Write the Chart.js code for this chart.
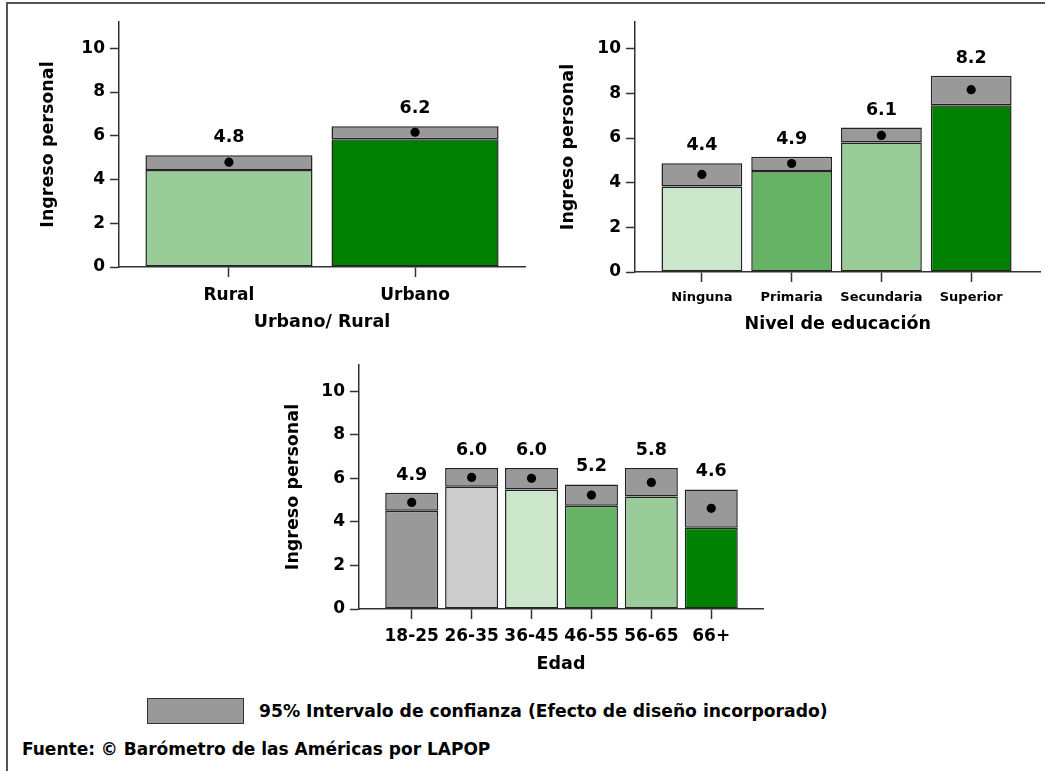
<!DOCTYPE html>
<html><head><meta charset="utf-8">
<script src="https://cdn.jsdelivr.net/npm/chart.js@4.4.0/dist/chart.umd.min.js"></script>
<style>
html,body{margin:0;padding:0;background:#fff;width:1045px;height:771px;overflow:hidden;position:relative;font-family:'DejaVu Sans',sans-serif;}
canvas{position:absolute;}
#frame{position:absolute;left:6px;top:2px;width:1037px;height:780px;border-top:2px solid #555;border-left:2px solid #555;}
#legbox{position:absolute;left:147px;top:698px;width:95px;height:24px;background:#999999;border:1px solid #333;}
.txt{position:absolute;transform:translateY(-50%);font-weight:bold;white-space:nowrap;color:#000;line-height:1;}
</style>
</head><body>
<div id="frame"></div>
<canvas id="c1" width="530" height="333" style="left:0px;top:0px"></canvas>
<canvas id="c2" width="529" height="335" style="left:516px;top:0px"></canvas>
<canvas id="c3" width="530" height="332" style="left:240px;top:343px"></canvas>
<div id="legbox"></div>
<div class="txt" style="left:259px;top:712px;font-size:17.2px">95% Intervalo de confianza (Efecto de diseño incorporado)</div>
<div class="txt" style="left:22px;top:749px;font-size:17px">Fuente: © Barómetro de las Américas por LAPOP</div>
<script>
// ---- data ----
const urbanCategories = ['Rural', 'Urbano'];
const urbanMeans = [4.79, 6.16];
const urbanLower = [4.43, 5.84];
const urbanUpper = [5.11, 6.44];
const urbanColors = ['#99CC99', '#008000'];

const eduCategories = ['Ninguna', 'Primaria', 'Secundaria', 'Superior'];
const eduMeans = [4.37, 4.86, 6.12, 8.17];
const eduLower = [3.83, 4.53, 5.80, 7.47];
const eduUpper = [4.87, 5.16, 6.47, 8.79];
const eduColors = ['#CCE6CC', '#66B366', '#99CC99', '#008000'];

const ageCategories = ['18-25', '26-35', '36-45', '46-55', '56-65', '66+'];
const ageMeans = [4.89, 6.04, 6.00, 5.23, 5.81, 4.62];
const ageLower = [4.51, 5.61, 5.48, 4.74, 5.16, 3.73];
const ageUpper = [5.34, 6.47, 6.47, 5.72, 6.47, 5.49];
const ageColors = ['#999999', '#CCCCCC', '#CCE6CC', '#66B366', '#99CC99', '#008000'];

const yTicks = [0, 2, 4, 6, 8, 10];
const yMax = 11.2;
const ciColor = '#999999';
const yTitle = 'Ingreso personal';

Chart.defaults.font.family = "'DejaVu Sans', sans-serif";
Chart.defaults.font.weight = 'bold';
Chart.defaults.color = '#000';

function makeChart(id, p) {
  const idx = p.categories.map((c, i) => i);
  const labelPlugin = {
    id: 'valueLabels' + id,
    afterDatasetsDraw(chart) {
      const ctx = chart.ctx, x = chart.scales.x, y = chart.scales.y;
      ctx.save();
      ctx.font = "bold 17.5px 'DejaVu Sans'";
      ctx.fillStyle = '#000';
      ctx.textAlign = 'center';
      ctx.textBaseline = 'middle';
      p.means.forEach((m, i) => {
        ctx.fillText(m.toFixed(1), x.getPixelForValue(i), y.getPixelForValue(p.upper[i]) - 17.5);
      });
      ctx.restore();
    }
  };
  new Chart(document.getElementById(id), {
    type: 'bar',
    data: {
      datasets: [
        { type: 'line', data: idx.map(i => ({x: i, y: p.means[i]})), showLine: false,
          pointRadius: 4.6, pointBackgroundColor: '#000', pointBorderWidth: 0, order: 0 },
        { data: idx.map(i => ({x: i, y: [0, p.lower[i]]})), backgroundColor: p.colors,
          borderColor: '#222', borderWidth: 1.5, borderSkipped: false, grouped: false,
          barPercentage: p.barPct, categoryPercentage: 1, order: 2 },
        { data: idx.map(i => ({x: i, y: [p.lower[i], p.upper[i]]})), backgroundColor: ciColor,
          borderColor: '#222', borderWidth: 1.5, borderSkipped: false, grouped: false,
          barPercentage: p.barPct, categoryPercentage: 1, order: 1 }
      ]
    },
    options: {
      responsive: false, animation: false, devicePixelRatio: 1, events: [],
      layout: { padding: { top: 22, right: p.padRight, left: 0, bottom: 0 } },
      plugins: { legend: { display: false }, tooltip: { enabled: false } },
      scales: {
        x: {
          type: 'linear', min: p.xMin, max: p.xMax, offset: false,
          afterBuildTicks: s => { s.ticks = idx.map(i => ({value: i})); },
          afterFit: s => { s.height = p.xHeight; },
          ticks: { callback: v => p.categories[Math.round(v)], font: { size: p.xFont, weight: 'bold' },
                   color: '#000', padding: p.xPad, maxRotation: 0, autoSkip: false, includeBounds: false },
          grid: { offset: false, drawOnChartArea: false, drawTicks: true, tickLength: 10, tickColor: '#333', tickWidth: 1.5 },
          border: { display: true, color: '#333', width: 1.5 },
          title: { display: true, text: p.xTitle, font: { size: 17.5, weight: 'bold' }, color: '#000',
                   padding: { top: 0, bottom: 0 } }
        },
        y: {
          min: 0, max: yMax,
          afterBuildTicks: s => { s.ticks = yTicks.map(v => ({value: v})); },
          afterFit: s => { s.width = 119; },
          ticks: { font: { size: 17, weight: 'bold' }, color: '#000', padding: 5 },
          grid: { drawOnChartArea: false, drawTicks: true, tickLength: 9, tickColor: '#333', tickWidth: 1.5 },
          border: { display: true, color: '#333', width: 1.5 },
          title: { display: true, text: yTitle, font: { size: 17.5, weight: 'bold' }, color: '#000',
                   padding: { top: p.yTitlePad, bottom: 0 } }
        }
      }
    },
    plugins: [labelPlugin]
  });
}

makeChart('c1', { categories: urbanCategories, means: urbanMeans, lower: urbanLower, upper: urbanUpper,
  colors: urbanColors, xMin: -0.591, xMax: 1.591, barPct: 0.898, padRight: 5, xHeight: 66,
  xFont: 17, xPad: 8, xTitle: 'Urbano/ Rural', yTitlePad: 37.5 });

makeChart('c2', { categories: eduCategories, means: eduMeans, lower: eduLower, upper: eduUpper,
  colors: eduColors, xMin: -0.745, xMax: 3.771, barPct: 0.9, padRight: 4, xHeight: 63,
  xFont: 13, xPad: 8, xTitle: 'Nivel de educación', yTitlePad: 41.8 });

makeChart('c3', { categories: ageCategories, means: ageMeans, lower: ageLower, upper: ageUpper,
  colors: ageColors, xMin: -0.88, xMax: 5.864, barPct: 0.885, padRight: 7, xHeight: 66,
  xFont: 17, xPad: 7.5, xTitle: 'Edad', yTitlePad: 42.8 });
</script>
</body></html>
